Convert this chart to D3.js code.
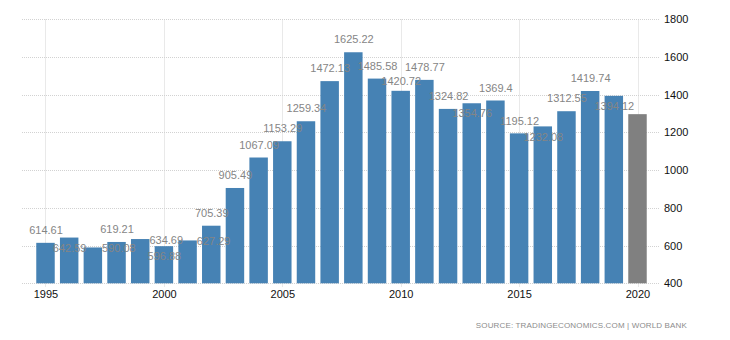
<!DOCTYPE html>
<html>
<head>
<meta charset="utf-8">
<script src="https://cdn.jsdelivr.net/npm/d3@7"></script>
<style>
  html, body { margin: 0; padding: 0; background: #fff; }
  svg { display: block; font-family: "Liberation Sans", Arial, sans-serif; }
</style>
</head>
<body>
<svg id="chart" width="730" height="340"></svg>
<script>
// Annual values, 1995–2020
const years = [1995, 1996, 1997, 1998, 1999, 2000, 2001, 2002, 2003, 2004, 2005, 2006, 2007,
               2008, 2009, 2010, 2011, 2012, 2013, 2014, 2015, 2016, 2017, 2018, 2019, 2020];
const values = [614.61, 642.59, 590.08, 619.21, 634.69, 596.88, 627.29, 705.39, 905.49, 1067.09,
                1153.29, 1259.34, 1472.13, 1625.22, 1485.58, 1420.72, 1478.77, 1324.82, 1354.76,
                1369.4, 1195.12, 1232.08, 1312.55, 1419.74, 1394.12, 1297];
// the latest year is drawn in grey and carries no value label
const latestYear = 2020;
const yTicks = [400, 600, 800, 1000, 1200, 1400, 1600, 1800];
const xTickYears = [1995, 2000, 2005, 2010, 2015, 2020];
const sourceText = "SOURCE: TRADINGECONOMICS.COM | WORLD BANK";

const svg = d3.select("#chart");

const x = d3.scaleBand()
  .domain(years)
  .range([33.66, 649.34])
  .paddingInner(0.22)
  .paddingOuter(0.11);

const y = d3.scaleLinear()
  .domain([400, 1800])
  .range([283.3, 19.3]);

const crisp = v => Math.round(v) + 0.5;
const cx = yr => x(yr) + x.bandwidth() / 2;

// dotted grid
const grid = svg.append("g")
  .attr("stroke", "#d2d2d2")
  .attr("stroke-width", 1)
  .attr("stroke-dasharray", "1,1")
  .attr("fill", "none");

grid.selectAll("line.h")
  .data(yTicks)
  .join("line")
  .attr("class", "h")
  .attr("x1", 22).attr("x2", 660)
  .attr("y1", d => crisp(y(d))).attr("y2", d => crisp(y(d)));

grid.selectAll("line.v")
  .data(xTickYears)
  .join("line")
  .attr("class", "v")
  .attr("x1", d => crisp(cx(d))).attr("x2", d => crisp(cx(d)))
  .attr("y1", crisp(y(1800))).attr("y2", crisp(y(400)) + 4);

// bars
svg.append("g")
  .selectAll("rect")
  .data(years.map((yr, i) => ({ yr, v: values[i] })))
  .join("rect")
  .attr("x", d => x(d.yr))
  .attr("width", x.bandwidth())
  .attr("y", d => y(d.v))
  .attr("height", d => y(400) - y(d.v))
  .attr("fill", d => d.yr === latestYear ? "#808080" : "#4682b4");

// value labels: above the bar by default; some are moved to avoid overlapping neighbours
const labelPlacement = {
  1996: "below", 1997: "side", 1999: "side", 2000: "below", 2001: "side",
  2010: "tight", 2013: "below", 2016: "below", 2019: "below"
};
const placeLabel = (yr, v) => {
  const p = labelPlacement[yr] || "above";
  const top = y(v);
  if (p === "below") return [cx(yr) + 0.5, top + 14.2];
  if (p === "side") return [cx(yr) + x.step() * 1.1, top + 4.6];
  if (p === "tight") return [cx(yr) + 0.5, top - 5.9];
  return [cx(yr) + 0.5, top - 8.8];
};

svg.append("g")
  .attr("font-size", 11)
  .attr("fill", "#858585")
  .attr("text-anchor", "middle")
  .selectAll("text")
  .data(years.map((yr, i) => ({ yr, v: values[i] })).filter(d => d.yr !== latestYear))
  .join("text")
  .attr("x", d => placeLabel(d.yr, d.v)[0])
  .attr("y", d => placeLabel(d.yr, d.v)[1])
  .text(d => d.v);

// axes
svg.append("g")
  .attr("font-size", 11)
  .attr("fill", "#111")
  .attr("text-anchor", "middle")
  .selectAll("text")
  .data(xTickYears)
  .join("text")
  .attr("x", d => cx(d) + 0.5)
  .attr("y", 298)
  .text(d => d);

svg.append("g")
  .attr("font-size", 11)
  .attr("fill", "#111")
  .attr("text-anchor", "start")
  .selectAll("text")
  .data(yTicks)
  .join("text")
  .attr("x", 664)
  .attr("y", d => y(d) + 4)
  .text(d => d);

// source note
svg.append("text")
  .attr("x", 687)
  .attr("y", 328)
  .attr("text-anchor", "end")
  .attr("font-size", 8)
  .attr("letter-spacing", 0.15)
  .attr("fill", "#8c8c8c")
  .text(sourceText);
</script>
</body>
</html>
